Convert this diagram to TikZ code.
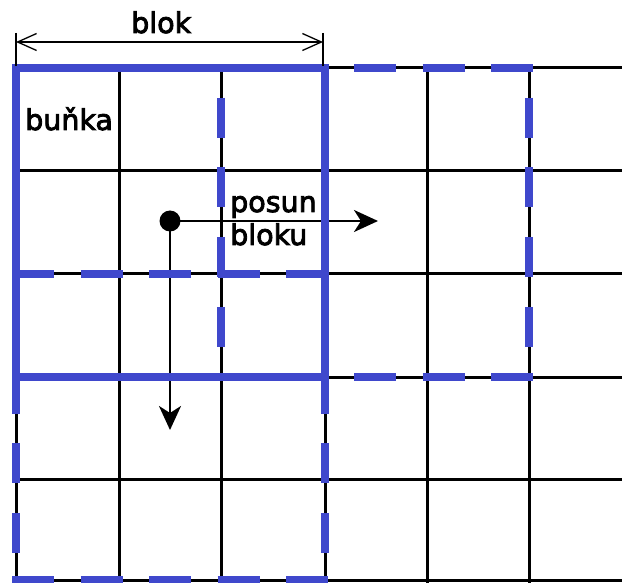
\documentclass[tikz,border=0pt]{standalone}
\usepackage{fontspec}
\setmainfont{DejaVu Sans}
\newfontfamily\lblfont{DejaVu Sans}[FakeBold=3]
\usetikzlibrary{arrows.meta}
\definecolor{bl}{RGB}{63,72,204}
\begin{document}
\begin{tikzpicture}[x=1pt,y=-1pt,
 gridline/.style={line width=3pt,black},
 solidblk/.style={line width=8.5pt,bl},
 hdash/.style={line width=8.5pt,bl,dash pattern=on 42pt off 26.5pt},
 vdash/.style={line width=8.5pt,bl,dash pattern=on 40pt off 29.75pt,dash phase=40pt},
 lbl/.style={font=\lblfont\fontsize{28.5}{33}\selectfont,inner sep=0pt,anchor=base west},
 arr/.style={line width=2.5pt,-{Stealth[length=24pt,width=22pt,inset=7pt]}},
 dim/.style={line width=1.3pt},
 barb/.style={line width=1.3pt,{Straight Barb[length=19pt,width=17pt]}-{Straight Barb[length=19pt,width=17pt]}},
 dot/.style={circle,fill=black,inner sep=0pt,minimum size=21pt}
]
\useasboundingbox (0,0) rectangle (622,583);
\fill[white] (0,0) rectangle (622,583);
% grid
\foreach \x in {16,119,221,325,427,529} \draw[gridline] (\x,68) -- (\x,583);
\foreach \y in {68,171,274,377,479,580} \draw[gridline] (16,\y) -- (622,\y);
% arrows
\node[dot] (d) at (170,221) {};
\coordinate (ah) at (378,221);
\coordinate (av) at (170,430);
\draw[arr] (d.center) -- (ah);
\draw[arr] (d.center) -- (av);
% dashed blocks: shifted right
\draw[hdash] (217,68) -- (533,68);
\draw[hdash] (217,377) -- (533,377);
\draw[vdash] (221,68) -- (221,377);
\draw[vdash] (529,68) -- (529,377);
% dashed blocks: shifted down
\draw[hdash] (12,274) -- (329,274);
\draw[hdash] (12,580) -- (329,580);
\draw[vdash] (16,274) -- (16,580);
\draw[vdash] (325,274) -- (325,580);
% solid block
\draw[solidblk] (16,68) rectangle (325,377);
% dimension
\coordinate (dl) at (16,42);
\coordinate (dr) at (323,42);
\coordinate (dlt) at (16,33);
\coordinate (dlb) at (16,66);
\coordinate (drt) at (323,33);
\coordinate (drb) at (323,66);
\draw[dim] (dlt) -- (dlb);
\draw[dim] (drt) -- (drb);
\draw[barb] (dl) -- (dr);
% labels
\node[lbl] (blok) at (131,33) {blok};
\node[lbl] (bunka) at (25,130) {buňka};
\node[lbl] (posun) at (230,212) {posun};
\node[lbl] (bloku) at (230,245) {bloku};
\end{tikzpicture}
\end{document}
